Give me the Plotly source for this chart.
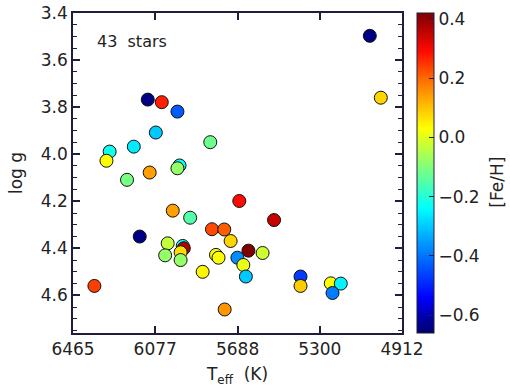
import plotly.graph_objects as go

teff = [5064, 5012, 6112, 6046, 5972, 6074, 5817, 6178, 6292, 6307,
        6103, 5962, 5972, 6210, 5994, 5912, 5680, 5516, 6150, 5809,
        5751, 5721, 6018, 5947, 5942, 5957, 6030, 5957, 5637, 5570,
        5790, 5778, 5689, 5661, 5853, 5649, 6364, 5391, 5391, 5248,
        5201, 5240, 5749]
logg = [3.497, 3.76, 3.768, 3.779, 3.819, 3.908, 3.949, 3.968, 3.989, 4.028,
        4.078, 4.048, 4.060, 4.109, 4.24, 4.27, 4.199, 4.28, 4.35, 4.319,
        4.32, 4.369, 4.379, 4.39, 4.40, 4.417, 4.43, 4.45, 4.41, 4.42,
        4.428, 4.44, 4.44, 4.471, 4.50, 4.52, 4.56, 4.52, 4.56, 4.549,
        4.55, 4.59, 4.66]
feh = [-0.64, 0.08, -0.64, 0.27, -0.43, -0.30, -0.12, -0.26, -0.22, 0.03,
       0.14, -0.24, -0.08, -0.11, 0.14, -0.15, 0.29, 0.35, -0.64, 0.23,
       0.21, 0.08, -0.03, -0.24, 0.37, 0.07, -0.08, -0.08, 0.42, -0.02,
       0.03, 0.03, -0.37, 0.01, 0.04, -0.30, 0.24, -0.47, 0.09, 0.03,
       -0.25, -0.39, 0.15]

x_ticks = [6465, 6077, 5688, 5300, 4912]
y_ticks = [3.4, 3.6, 3.8, 4.0, 4.2, 4.4, 4.6]
cb_ticks = [-0.6, -0.4, -0.2, 0.0, 0.2, 0.4]
cb_labels = ["\u22120.6", "\u22120.4", "\u22120.2", "0.0", "0.2", "0.4"]

# colour table
cscale = [
    [0.0, "rgb(0,0,110)"], [0.05, "rgb(0,0,170)"], [0.11, "rgb(0,0,255)"],
    [0.2, "rgb(0,80,255)"], [0.3, "rgb(0,170,255)"], [0.39, "rgb(0,255,255)"],
    [0.45, "rgb(60,255,190)"], [0.52, "rgb(130,255,120)"], [0.64, "rgb(255,255,0)"],
    [0.72, "rgb(255,180,0)"], [0.8, "rgb(255,100,0)"], [0.88, "rgb(255,10,0)"],
    [0.97, "rgb(160,0,0)"], [1.0, "rgb(128,0,0)"],
]

AX = "#1e1e3c"
FONT = "DejaVu Sans"
TXT = "#222222"
FS = 17

fig = go.Figure()
fig.add_trace(go.Scatter(
    x=teff, y=logg, mode="markers",
    marker=dict(
        size=13, color=feh, colorscale=cscale, cmin=-0.66, cmax=0.42,
        line=dict(color="#111111", width=1),
        colorbar=dict(
            x=1.0465, xanchor="left", xpad=0, y=0.5, yanchor="middle",
            len=1.0, lenmode="fraction", thickness=17, ypad=0,
            outlinecolor=AX, outlinewidth=1,
            tickvals=cb_ticks, ticktext=cb_labels,
            ticks="inside", ticklen=5, tickcolor=AX, tickwidth=1,
            tickfont=dict(family=FONT, size=FS, color=TXT),
        ),
    ),
    showlegend=False,
))

fig.add_annotation(x=0.068, y=0.91, xref="paper", yref="paper", xanchor="left", yanchor="middle",
                   text="43  stars", showarrow=False, font=dict(family=FONT, size=16, color=TXT))
fig.add_annotation(x=1.289, y=0.47, xref="paper", yref="paper", xanchor="center", yanchor="middle",
                   text="[Fe/H]", textangle=-90, showarrow=False,
                   font=dict(family=FONT, size=FS, color=TXT))

fig.update_xaxes(
    range=[6465, 4912], tickvals=x_ticks, ticktext=[str(v) for v in x_ticks],
    showgrid=False, zeroline=False, showline=True, linecolor=AX, linewidth=1.5,
    mirror="ticks", ticks="inside", ticklen=7, tickcolor=AX, tickwidth=1.5,
    tickfont=dict(family=FONT, size=FS, color=TXT),
    title=dict(text="T<sub>eff</sub>  (K)", font=dict(family=FONT, size=FS, color=TXT), standoff=12),
    automargin=False,
)
fig.update_yaxes(
    range=[4.76, 3.4], tickvals=y_ticks, ticktext=["%.1f" % v for v in y_ticks],
    showgrid=False, zeroline=False, showline=True, linecolor=AX, linewidth=1.5,
    mirror="ticks", ticks="inside", ticklen=7, tickcolor=AX, tickwidth=1.5,
    minor=dict(dtick=0.05, tick0=3.4, ticks="inside", ticklen=4, tickcolor=AX, tickwidth=1, showgrid=False),
    tickfont=dict(family=FONT, size=FS, color=TXT),
    title=dict(text="log g", font=dict(family=FONT, size=FS, color=TXT), standoff=14),
    automargin=False,
)
fig.update_layout(
    width=510, height=387,
    margin=dict(l=73, r=108, t=13, b=54, pad=0, autoexpand=False),
    paper_bgcolor="white", plot_bgcolor="white",
)
fig.write_html("out.html")
